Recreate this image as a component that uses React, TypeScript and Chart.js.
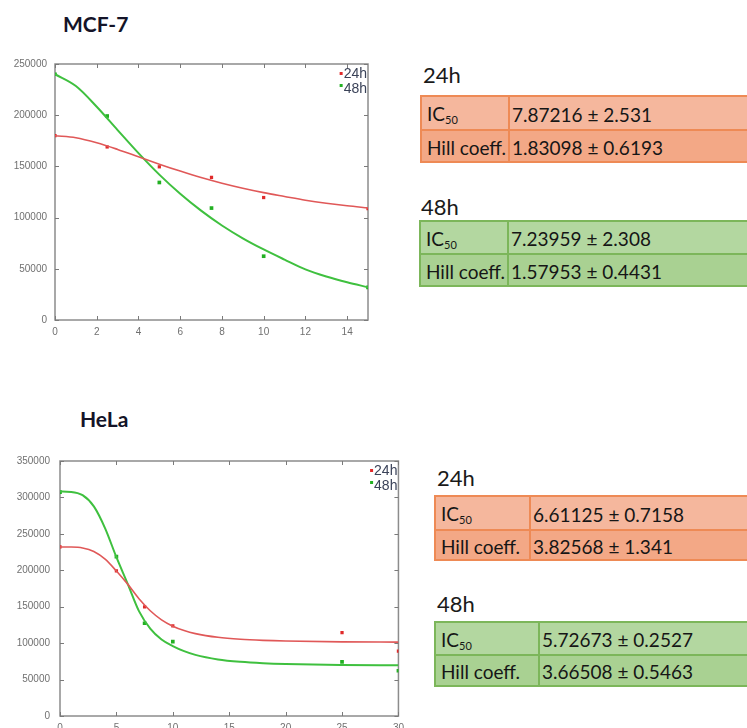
import React, { useEffect, useRef } from "react";
import { Chart, registerables } from "chart.js";

Chart.register(...registerables);

// ---------------- DATA ----------------
// MCF-7
const mcfFitX = [0, 1, 2, 3, 4, 5, 6, 7, 8, 9, 10, 11, 12, 13, 14, 15];
const mcf24Fit = [180000, 178000, 173100, 166600, 159400, 152200, 145400, 139100, 133600, 128700, 124400, 120650, 117000, 114000, 111500, 109500];
const mcf48Fit = [240000, 228500, 208300, 185500, 163000, 142000, 123300, 106800, 92300, 79800, 68900, 59000, 49500, 42500, 36800, 32000];
const mcfDoses = [0, 2.5, 5, 7.5, 10, 15];
const mcf24Pts = [180000, 169000, 149600, 139300, 119600, 108700];
const mcf48Pts = [240000, 199200, 134300, 109300, 62300, 31900];
const mcfXTicks = [0, 2, 4, 6, 8, 10, 12, 14];
const mcfYTicks = [0, 50000, 100000, 150000, 200000, 250000];

// HeLa
const helaFitX = [0, 1, 2, 3, 4, 5, 6, 7, 8, 9, 10, 11, 12, 14, 16, 18, 20, 25, 30];
const hela24Fit = [232000, 231900, 230700, 225900, 215300, 199000, 181000, 161000, 144500, 132000, 123300, 117300, 113100, 108000, 105300, 103800, 102900, 101800, 101400];
const hela48Fit = [308000, 307600, 303100, 287700, 257600, 218000, 181500, 144000, 120000, 105000, 96000, 89000, 83900, 77700, 74400, 72500, 71400, 70100, 69500];
const helaDoses = [0, 5, 7.5, 10, 25, 30];
const hela24Pts = [232000, 199300, 149800, 123800, 114300, 89100];
const hela48Pts = [307300, 218700, 127300, 102200, 74200, 62100];
const helaXTicks = [0, 5, 10, 15, 20, 25, 30];
const helaYTicks = [0, 50000, 100000, 150000, 200000, 250000, 300000, 350000];

const seriesLabels = ["24h", "48h"];

// Tables
const mcfTable24 = ["7.87216 ± 2.531", "1.83098 ± 0.6193"];
const mcfTable48 = ["7.23959 ± 2.308", "1.57953 ± 0.4431"];
const helaTable24 = ["6.61125 ± 0.7158", "3.82568 ± 1.341"];
const helaTable48 = ["5.72673 ± 0.2527", "3.66508 ± 0.5463"];
const rowLabels = ["IC", "Hill coeff."];

// ---------------- STYLE ----------------
const RED_LINE = "#e05858";
const GREEN_LINE = "#3fc03f";
const RED_PT = "#e02a2a";
const GREEN_PT = "#22b022";

type ChartProps = {
  left: number;
  top: number;
  width: number;
  height: number;
  padTop: number;
  padRight: number;
  yAxisW: number;
  xAxisH: number;
  yLabelPad: number;
  xMax: number;
  yMax: number;
  xTicks: number[];
  yTicks: number[];
  fitX: number[];
  fit24: number[];
  fit48: number[];
  doses: number[];
  pts24: number[];
  pts48: number[];
};

function DoseChart(p: ChartProps) {
  const ref = useRef<HTMLCanvasElement | null>(null);
  useEffect(() => {
    if (!ref.current) return;
    const framePlugin = {
      id: "frame",
      beforeDatasetsDraw(chart: any) {
        const { ctx, chartArea } = chart;
        const { left, right, top, bottom } = chartArea;
        const xs = chart.scales.x;
        const ys = chart.scales.y;
        ctx.save();
        ctx.strokeStyle = "#8c8c8c";
        ctx.lineWidth = 1.5;
        ctx.strokeRect(left, top, right - left, bottom - top);
        ctx.lineWidth = 1;
        ctx.strokeStyle = "#7a7a7a";
        const tl = 4;
        ctx.beginPath();
        xs.ticks.forEach((t: any) => {
          const px = Math.round(xs.getPixelForValue(t.value)) + 0.5;
          ctx.moveTo(px, bottom);
          ctx.lineTo(px, bottom - tl);
          ctx.moveTo(px, top);
          ctx.lineTo(px, top + tl);
        });
        ys.ticks.forEach((t: any) => {
          const py = Math.round(ys.getPixelForValue(t.value)) + 0.5;
          ctx.moveTo(left, py);
          ctx.lineTo(left + tl, py);
          ctx.moveTo(right, py);
          ctx.lineTo(right - tl, py);
        });
        ctx.stroke();
        ctx.restore();
      },
    };
    const legendPlugin = {
      id: "innerLegend",
      afterDatasetsDraw(chart: any) {
        const { ctx, chartArea } = chart;
        ctx.save();
        ctx.font = "14px 'Liberation Sans', Arial, sans-serif";
        ctx.textAlign = "right";
        ctx.textBaseline = "middle";
        const colors = [RED_PT, GREEN_PT];
        seriesLabels.forEach((lab, i) => {
          const y = chartArea.top + 10 + i * 15;
          const xr = chartArea.right - 1;
          ctx.fillStyle = "#3a4258";
          ctx.fillText(lab, xr, y);
          const w = ctx.measureText(lab).width;
          ctx.fillStyle = colors[i];
          ctx.fillRect(xr - w - 4, y - 2 - i * 3, 3, 3);
        });
        ctx.restore();
      },
    };
    const tickFont = { family: "'Liberation Sans', Arial, sans-serif", size: 10 };
    const chart = new Chart(ref.current, {
      type: "scatter",
      data: {
        datasets: [
          {
            label: "24h fit",
            data: p.fitX.map((x, i) => ({ x, y: p.fit24[i] })),
            showLine: true,
            borderColor: RED_LINE,
            borderWidth: 1.6,
            pointRadius: 0,
            cubicInterpolationMode: "monotone",
            fill: false,
          },
          {
            label: "48h fit",
            data: p.fitX.map((x, i) => ({ x, y: p.fit48[i] })),
            showLine: true,
            borderColor: GREEN_LINE,
            borderWidth: 2,
            pointRadius: 0,
            cubicInterpolationMode: "monotone",
            fill: false,
          },
          {
            label: "24h",
            data: p.doses.map((x, i) => ({ x, y: p.pts24[i] })),
            showLine: false,
            pointStyle: "rect",
            pointRadius: 2.3,
            backgroundColor: RED_PT,
            borderWidth: 0,
          },
          {
            label: "48h",
            data: p.doses.map((x, i) => ({ x, y: p.pts48[i] })),
            showLine: false,
            pointStyle: "rect",
            pointRadius: 2.6,
            backgroundColor: GREEN_PT,
            borderWidth: 0,
          },
        ] as any,
      },
      options: {
        responsive: false,
        animation: false,
        layout: { padding: { top: p.padTop, right: p.padRight, left: 0, bottom: 0 } },
        plugins: { legend: { display: false }, tooltip: { enabled: false } },
        scales: {
          x: {
            type: "linear",
            min: 0,
            max: p.xMax,
            grid: { display: false, drawTicks: false },
            border: { display: false },
            afterBuildTicks: (s: any) => {
              s.ticks = p.xTicks.map((v) => ({ value: v }));
            },
            afterFit: (s: any) => {
              s.height = p.xAxisH;
            },
            ticks: {
              font: tickFont,
              color: "#707070",
              padding: 6,
              maxRotation: 0,
              autoSkip: false,
              callback: (v: any) => String(v),
            },
          },
          y: {
            type: "linear",
            min: 0,
            max: p.yMax,
            grid: { display: false, drawTicks: false },
            border: { display: false },
            afterBuildTicks: (s: any) => {
              s.ticks = p.yTicks.map((v) => ({ value: v }));
            },
            afterFit: (s: any) => {
              s.width = p.yAxisW;
            },
            ticks: {
              font: tickFont,
              color: "#707070",
              padding: p.yLabelPad,
              autoSkip: false,
              callback: (v: any) => String(v),
            },
          },
        },
      } as any,
      plugins: [framePlugin, legendPlugin],
    });
    return () => chart.destroy();
  }, []);
  return (
    <canvas
      ref={ref}
      width={p.width}
      height={p.height}
      style={{ position: "absolute", left: p.left, top: p.top, width: p.width, height: p.height }}
    />
  );
}

type TableProps = {
  left: number;
  top: number;
  colX: number;
  row1: number;
  row2: number;
  values: string[];
  fills: string[];
  border: string;
};

function StatTable(t: TableProps) {
  const bw = 2;
  const labelW = t.colX - t.left - bw;
  const cellText: React.CSSProperties = {
    fontFamily: "Lato, 'Open Sans', sans-serif",
    fontSize: 19,
    color: "#161616",
    whiteSpace: "nowrap",
    display: "flex",
    alignItems: "center",
  };
  const rows = [t.row1, t.row2];
  return (
    <div
      style={{
        position: "absolute",
        left: t.left,
        top: t.top,
        width: 780 - t.left,
        boxSizing: "border-box",
        border: `${bw}px solid ${t.border}`,
      }}
    >
      {rows.map((h, i) => (
        <div
          key={i}
          style={{
            display: "flex",
            height: h,
            boxSizing: "border-box",
            background: t.fills[i],
            borderTop: i === 1 ? `${bw}px solid ${t.border}` : undefined,
          }}
        >
          <div
            style={{
              ...cellText,
              width: labelW,
              boxSizing: "border-box",
              borderRight: `${bw}px solid ${t.border}`,
              paddingLeft: 5,
              paddingTop: 2,
            }}
          >
            {i === 0 ? (
              <span>
                {rowLabels[0]}
                <sub style={{ fontSize: 11, verticalAlign: "-3px" }}>50</sub>
              </span>
            ) : (
              <span>{rowLabels[1]}</span>
            )}
          </div>
          <div style={{ ...cellText, paddingLeft: 2, paddingTop: 2 }}>{t.values[i]}</div>
        </div>
      ))}
    </div>
  );
}

function Heading({ left, top, text, bold, size }: { left: number; top: number; text: string; bold?: boolean; size: number }) {
  return (
    <div
      style={{
        position: "absolute",
        left,
        top,
        fontFamily: "Lato, 'Open Sans', sans-serif",
        fontWeight: bold ? 700 : 400,
        fontSize: size,
        lineHeight: `${size}px`,
        color: bold ? "#141428" : "#1a1a1a",
        whiteSpace: "nowrap",
      }}
    >
      {text}
    </div>
  );
}

const ORANGE_FILLS = ["#f5b79d", "#f3a886"];
const ORANGE_BORDER = "#ee8a55";
const GREEN_FILLS = ["#b3d7a0", "#a9d192"];
const GREEN_BORDER = "#7cb65a";

export default function App() {
  return (
    <div
      style={{
        position: "fixed",
        left: 0,
        top: 0,
        width: 747,
        height: 728,
        overflow: "hidden",
        background: "#ffffff",
      }}
    >
      <Heading left={63} top={13} text="MCF-7" bold size={21} />
      <Heading left={80} top={408} text="HeLa" bold size={21} />

      <DoseChart
        left={0}
        top={50}
        width={380}
        height={295}
        padTop={9}
        padRight={12}
        yAxisW={55}
        xAxisH={25}
        yLabelPad={8}
        xMax={15}
        yMax={250000}
        xTicks={mcfXTicks}
        yTicks={mcfYTicks}
        fitX={mcfFitX}
        fit24={mcf24Fit}
        fit48={mcf48Fit}
        doses={mcfDoses}
        pts24={mcf24Pts}
        pts48={mcf48Pts}
      />
      <DoseChart
        left={0}
        top={445}
        width={410}
        height={300}
        padTop={12}
        padRight={11}
        yAxisW={60}
        xAxisH={29}
        yLabelPad={10}
        xMax={30}
        yMax={350000}
        xTicks={helaXTicks}
        yTicks={helaYTicks}
        fitX={helaFitX}
        fit24={hela24Fit}
        fit48={hela48Fit}
        doses={helaDoses}
        pts24={hela24Pts}
        pts48={hela48Pts}
      />

      <Heading left={423} top={64} text="24h" size={22} />
      <StatTable left={420} top={95} colX={510} row1={32} row2={32} values={mcfTable24} fills={ORANGE_FILLS} border={ORANGE_BORDER} />
      <Heading left={421} top={196} text="48h" size={22} />
      <StatTable left={419} top={220} colX={509} row1={31} row2={32} values={mcfTable48} fills={GREEN_FILLS} border={GREEN_BORDER} />

      <Heading left={437} top={467} text="24h" size={22} />
      <StatTable left={434} top={495} colX={531} row1={32} row2={30} values={helaTable24} fills={ORANGE_FILLS} border={ORANGE_BORDER} />
      <Heading left={437} top={593} text="48h" size={22} />
      <StatTable left={434} top={621} colX={540} row1={31} row2={31} values={helaTable48} fills={GREEN_FILLS} border={GREEN_BORDER} />
    </div>
  );
}
